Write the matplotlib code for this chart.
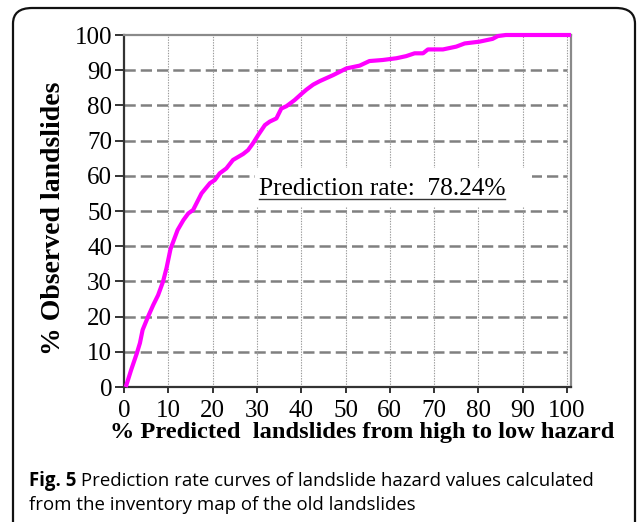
import matplotlib.pyplot as plt
import matplotlib.patches as mpatches
from matplotlib.lines import Line2D

# cumulative prediction-rate curve
pred_pct = [0.4, 1.6, 2.9, 3.6, 4.2, 5.4, 6.6, 7.7, 8.8, 9.6, 10.5, 12.1, 13.4,
            14.5, 15.6, 17.5, 19.4, 20.5, 21.6, 23.1, 24.6, 26.9, 28.0, 29.1,
            30.3, 31.8, 32.9, 34.4, 35.5, 36.7, 38.5, 40.0, 41.2, 42.7, 44.2,
            47.2, 50.2, 53.2, 55.4, 58.4, 61.5, 63.7, 65.6, 67.5, 68.6, 72.0,
            75.0, 76.9, 80.2, 83.2, 84.4, 86.2, 100.9]
obs_pct = [0.0, 4.8, 9.6, 12.5, 16.2, 19.9, 23.3, 26.1, 29.9, 33.8, 39.2, 44.6,
           47.4, 49.3, 50.3, 55.0, 57.9, 58.8, 60.7, 62.1, 64.5, 66.2, 67.3,
           69.2, 71.6, 74.4, 75.4, 76.3, 79.1, 79.8, 81.5, 83.2, 84.5, 85.9,
           86.9, 88.6, 90.5, 91.3, 92.6, 92.9, 93.4, 94.0, 94.8, 94.8, 95.9,
           95.9, 96.7, 97.6, 98.1, 98.9, 99.7, 100.0, 100.0]
ticks = list(range(0, 101, 10))
rate_label = "Prediction rate:  78.24%"
caption_bold = "Fig. 5"
caption_rest = " Prediction rate curves of landslide hazard values calculated"
caption_line2 = "from the inventory map of the old landslides"

serif = ["Liberation Serif", "DejaVu Serif"]
sans = ["Open Sans", "DejaVu Sans"]

fig = plt.figure(figsize=(6.37, 5.22), dpi=100)

# rounded frame around the figure
frame = mpatches.FancyBboxPatch((13 / 637, -0.05), 622 / 637, 1 - 8 / 522 + 0.05,
                                boxstyle="round,pad=0,rounding_size=0.03",
                                transform=fig.transFigure, fill=False,
                                edgecolor="#111111", linewidth=1.6)
fig.patches.append(frame)

ax = fig.add_axes([124 / 637, 1 - 387 / 522, 447 / 637, 352 / 522])
ax.set_xlim(0, 100.9)
ax.set_ylim(0, 100)

# grid: dashed horizontals, dotted verticals
for y in ticks[1:-1]:
    ax.plot([0, 100], [y, y], color="#808080", lw=1.8, ls=(0, (4.5, 2)), zorder=1)
for x in ticks[1:]:
    ax.plot([x, x], [0, 100], color="#9a9a9a", lw=0.8, ls=(0, (1.2, 1.2)), zorder=1)

# white panel behind the annotation
ax.add_patch(mpatches.Rectangle((29.5, 51.1), 62.5, 11.2, facecolor="white",
                                edgecolor="none", zorder=2))

ax.plot(pred_pct, obs_pct, color="#ff00ff", lw=3.0, zorder=4,
        solid_joinstyle="round", solid_capstyle="butt", clip_on=False)

txt = ax.text(30.4, 56.3, rate_label, fontsize=18.3, family=serif,
              ha="left", va="center", zorder=3)

for side in ["left", "bottom"]:
    ax.spines[side].set_color("#333333")
    ax.spines[side].set_linewidth(1.6)
for side in ["top", "right"]:
    ax.spines[side].set_color("#8a8a8a")
    ax.spines[side].set_linewidth(1.6)

ax.set_xticks(ticks)
ax.set_yticks(ticks)
ax.tick_params(axis="y", length=6.5, width=1.4, color="#333333", pad=2,
               labelsize=18)
ax.tick_params(axis="x", length=4.5, width=1.4, color="#333333", pad=5,
               labelsize=18)
for lab in ax.get_xticklabels() + ax.get_yticklabels():
    lab.set_family(serif)

xl = ax.set_xlabel("% Predicted  landslides from high to low hazard", fontsize=17.6,
                   fontweight="bold", family=serif, labelpad=0)
xl.set_x(0.533)
yl = ax.set_ylabel("% Observed landslides", fontsize=20, fontweight="bold",
                   family=serif, labelpad=6)
yl.set_y(0.48)

# caption
fig.text(29 / 637, 1 - 481 / 522, caption_bold, fontsize=13.4, fontweight="bold",
         family=sans, ha="left", va="center")
fig.canvas.draw()
r = fig.canvas.get_renderer()
bb = fig.texts[-1].get_window_extent(r)
fig.text(bb.x1 / 637, 1 - 481 / 522, caption_rest, fontsize=13.4, family=sans,
         ha="left", va="center")
fig.text(29 / 637, 1 - 505 / 522, caption_line2, fontsize=13.4, family=sans,
         ha="left", va="center")

# underline the annotation
tb = txt.get_window_extent(r)
inv = fig.transFigure.inverted()
(x0, y0), (x1, _) = inv.transform([(tb.x0, tb.y0 + 1), (tb.x1, tb.y0)])
fig.add_artist(Line2D([x0, x1], [y0, y0], color="#333333", lw=1.0,
                      transform=fig.transFigure))

fig.savefig("out.png", dpi=100)
